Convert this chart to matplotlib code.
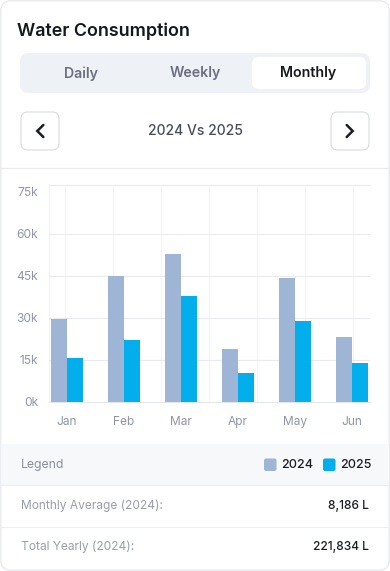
import matplotlib
matplotlib.use("Agg")
import matplotlib.pyplot as plt
from matplotlib.patches import FancyBboxPatch
import numpy as np

plt.rcParams['font.family'] = ['Inter', 'DejaVu Sans']

# ---- data ----
months = ["Jan", "Feb", "Mar", "Apr", "May", "Jun"]
series_2024 = [29500, 45000, 52700, 18800, 44400, 23200]
series_2025 = [15800, 22100, 37800, 10500, 29000, 14100]
y_ticks = [0, 15000, 30000, 45000, 60000, 75000]
tabs = ["Daily", "Weekly", "Monthly"]
legend_labels = ["2024", "2025"]
stats_labels = ["Monthly Average (2024):", "Total Yearly (2024):"]
stats_values = ["8,186 L", "221,834 L"]

C24 = "#9fb5d6"
C25 = "#02aeec"
W, H = 390, 571

fig = plt.figure(figsize=(W / 100, H / 100), dpi=100)
fig.patch.set_facecolor("white")

# ---- background / card layer in pixel coords ----
bg = fig.add_axes([0, 0, 1, 1])
bg.set_xlim(0, W)
bg.set_ylim(H, 0)
bg.axis("off")

def rbox(x0, y0, x1, y1, r, fc, ec="none", lw=0, z=1):
    p = FancyBboxPatch((x0, y0), x1 - x0, y1 - y0,
                       boxstyle=f"round,pad=0,rounding_size={r}",
                       fc=fc, ec=ec, lw=lw, zorder=z)
    bg.add_patch(p)
    return p

rbox(0.8, 0.8, W - 0.8, H - 0.8, 10, "white", "#e6e8ec", 0.9, z=0)

bg.text(17, 36, "Water Consumption", fontsize=12.9, fontweight="semibold",
        color="#16181f", ha="left", va="baseline", zorder=3)

# segmented control
rbox(20, 53, 370, 93, 9, "#eef1f5", z=1)
rbox(252, 57, 366, 89, 7, "white", z=2)
tab_x = [81, 195, 308]
for t, tx in zip(tabs, tab_x):
    sel = t == "Monthly"
    bg.text(tx, 73.5, t, fontsize=10.2, fontweight="semibold",
            color="#17191f" if sel else "#6b7080", ha="center", va="center", zorder=3)

# nav buttons
rbox(21, 112, 59, 150, 7, "white", "#d8dbe0", 0.8, z=2)
rbox(331, 112, 369, 150, 7, "white", "#d8dbe0", 0.8, z=2)
bg.plot([43.3, 37.3, 43.3], [125, 131, 137], color="#1a1c22", lw=1.8,
        solid_capstyle="round", solid_joinstyle="miter", zorder=3)
bg.plot([346.7, 352.7, 346.7], [125, 131, 137], color="#1a1c22", lw=1.8,
        solid_capstyle="round", solid_joinstyle="miter", zorder=3)
bg.text(195, 131, "2024 Vs 2025", fontsize=10, fontweight="medium",
        color="#4a4e5c", ha="center", va="center", zorder=3)

bg.plot([1, W - 1], [168, 168], color="#e9ebee", lw=0.8, zorder=2)

# legend row
bg.add_patch(plt.Rectangle((1.2, 444), W - 2.4, 41, fc="#f6f8fa", ec="none", zorder=1))
bg.plot([1, W - 1], [485, 485], color="#eceef1", lw=0.8, zorder=2)
bg.plot([1, W - 1], [527, 527], color="#eceef1", lw=0.8, zorder=2)
bg.text(21, 465, "Legend", fontsize=8.8, color="#8c909c", ha="left", va="center", zorder=3)
leg_sq_x = [264, 323]
for lab, col, sx in zip(legend_labels, [C24, C25], leg_sq_x):
    rbox(sx, 458.5, sx + 12.5, 471, 2, col, z=3)
    bg.text(sx + 17, 465, lab, fontsize=9, fontweight="medium", color="#1b1d24",
            ha="left", va="center", zorder=3)

for lab, val, yy in zip(stats_labels, stats_values, [506, 547]):
    bg.text(21, yy, lab, fontsize=8.6, color="#9a9eaa", ha="left", va="center", zorder=3)
    bg.text(369, yy, val, fontsize=8.6, fontweight="medium", color="#1b1d24",
            ha="right", va="center", zorder=3)

# ---- chart ----
ax_l, ax_r, ax_t, ax_b = 49, 370, 185, 402
ax = fig.add_axes([ax_l / W, (H - ax_b) / H, (ax_r - ax_l) / W, (ax_b - ax_t) / H])
ax.set_facecolor("none")

x = np.arange(len(months))
bw = 0.28
ax.bar(x - bw / 2, series_2024, width=bw, color=C24, zorder=3)
ax.bar(x + bw / 2, series_2025, width=bw, color=C25, zorder=3)

ax.set_xlim(-0.316, len(months) - 1 + 0.316)
ax.set_ylim(0, 77500)
ax.set_yticks(y_ticks)
ax.set_yticklabels([f"{v // 1000}k" for v in y_ticks])
ax.set_xticks(x)
ax.set_xticklabels(months)

ax.yaxis.grid(True, color="#e8eaee", lw=0.8, zorder=0)
ax.get_ygridlines()[-1].set_visible(False)
ax.get_ygridlines()[0].set_visible(False)
# faint vertical grid
for fx in np.arange(16, 321, 48) / 321:
    ax.plot([fx, fx], [0, 1], transform=ax.transAxes, color="#f2f3f5", lw=0.8, zorder=0)
ax.plot([0, 0], [0, 1], transform=ax.transAxes, color="#f0f1f4", lw=0.8, zorder=0)

ax.spines["right"].set_visible(False)
ax.spines["left"].set_visible(False)
ax.spines["top"].set_color("#e8eaee")
ax.spines["top"].set_linewidth(0.8)
ax.spines["bottom"].set_color("#e3e6ea")
ax.spines["bottom"].set_linewidth(0.8)

ax.tick_params(axis="y", length=0, pad=8, labelsize=8.6, labelcolor="#9096a6")
ax.tick_params(axis="x", length=0, pad=10, labelsize=8.6, labelcolor="#9096a6")

fig.savefig("out.png", dpi=100, facecolor="white")
